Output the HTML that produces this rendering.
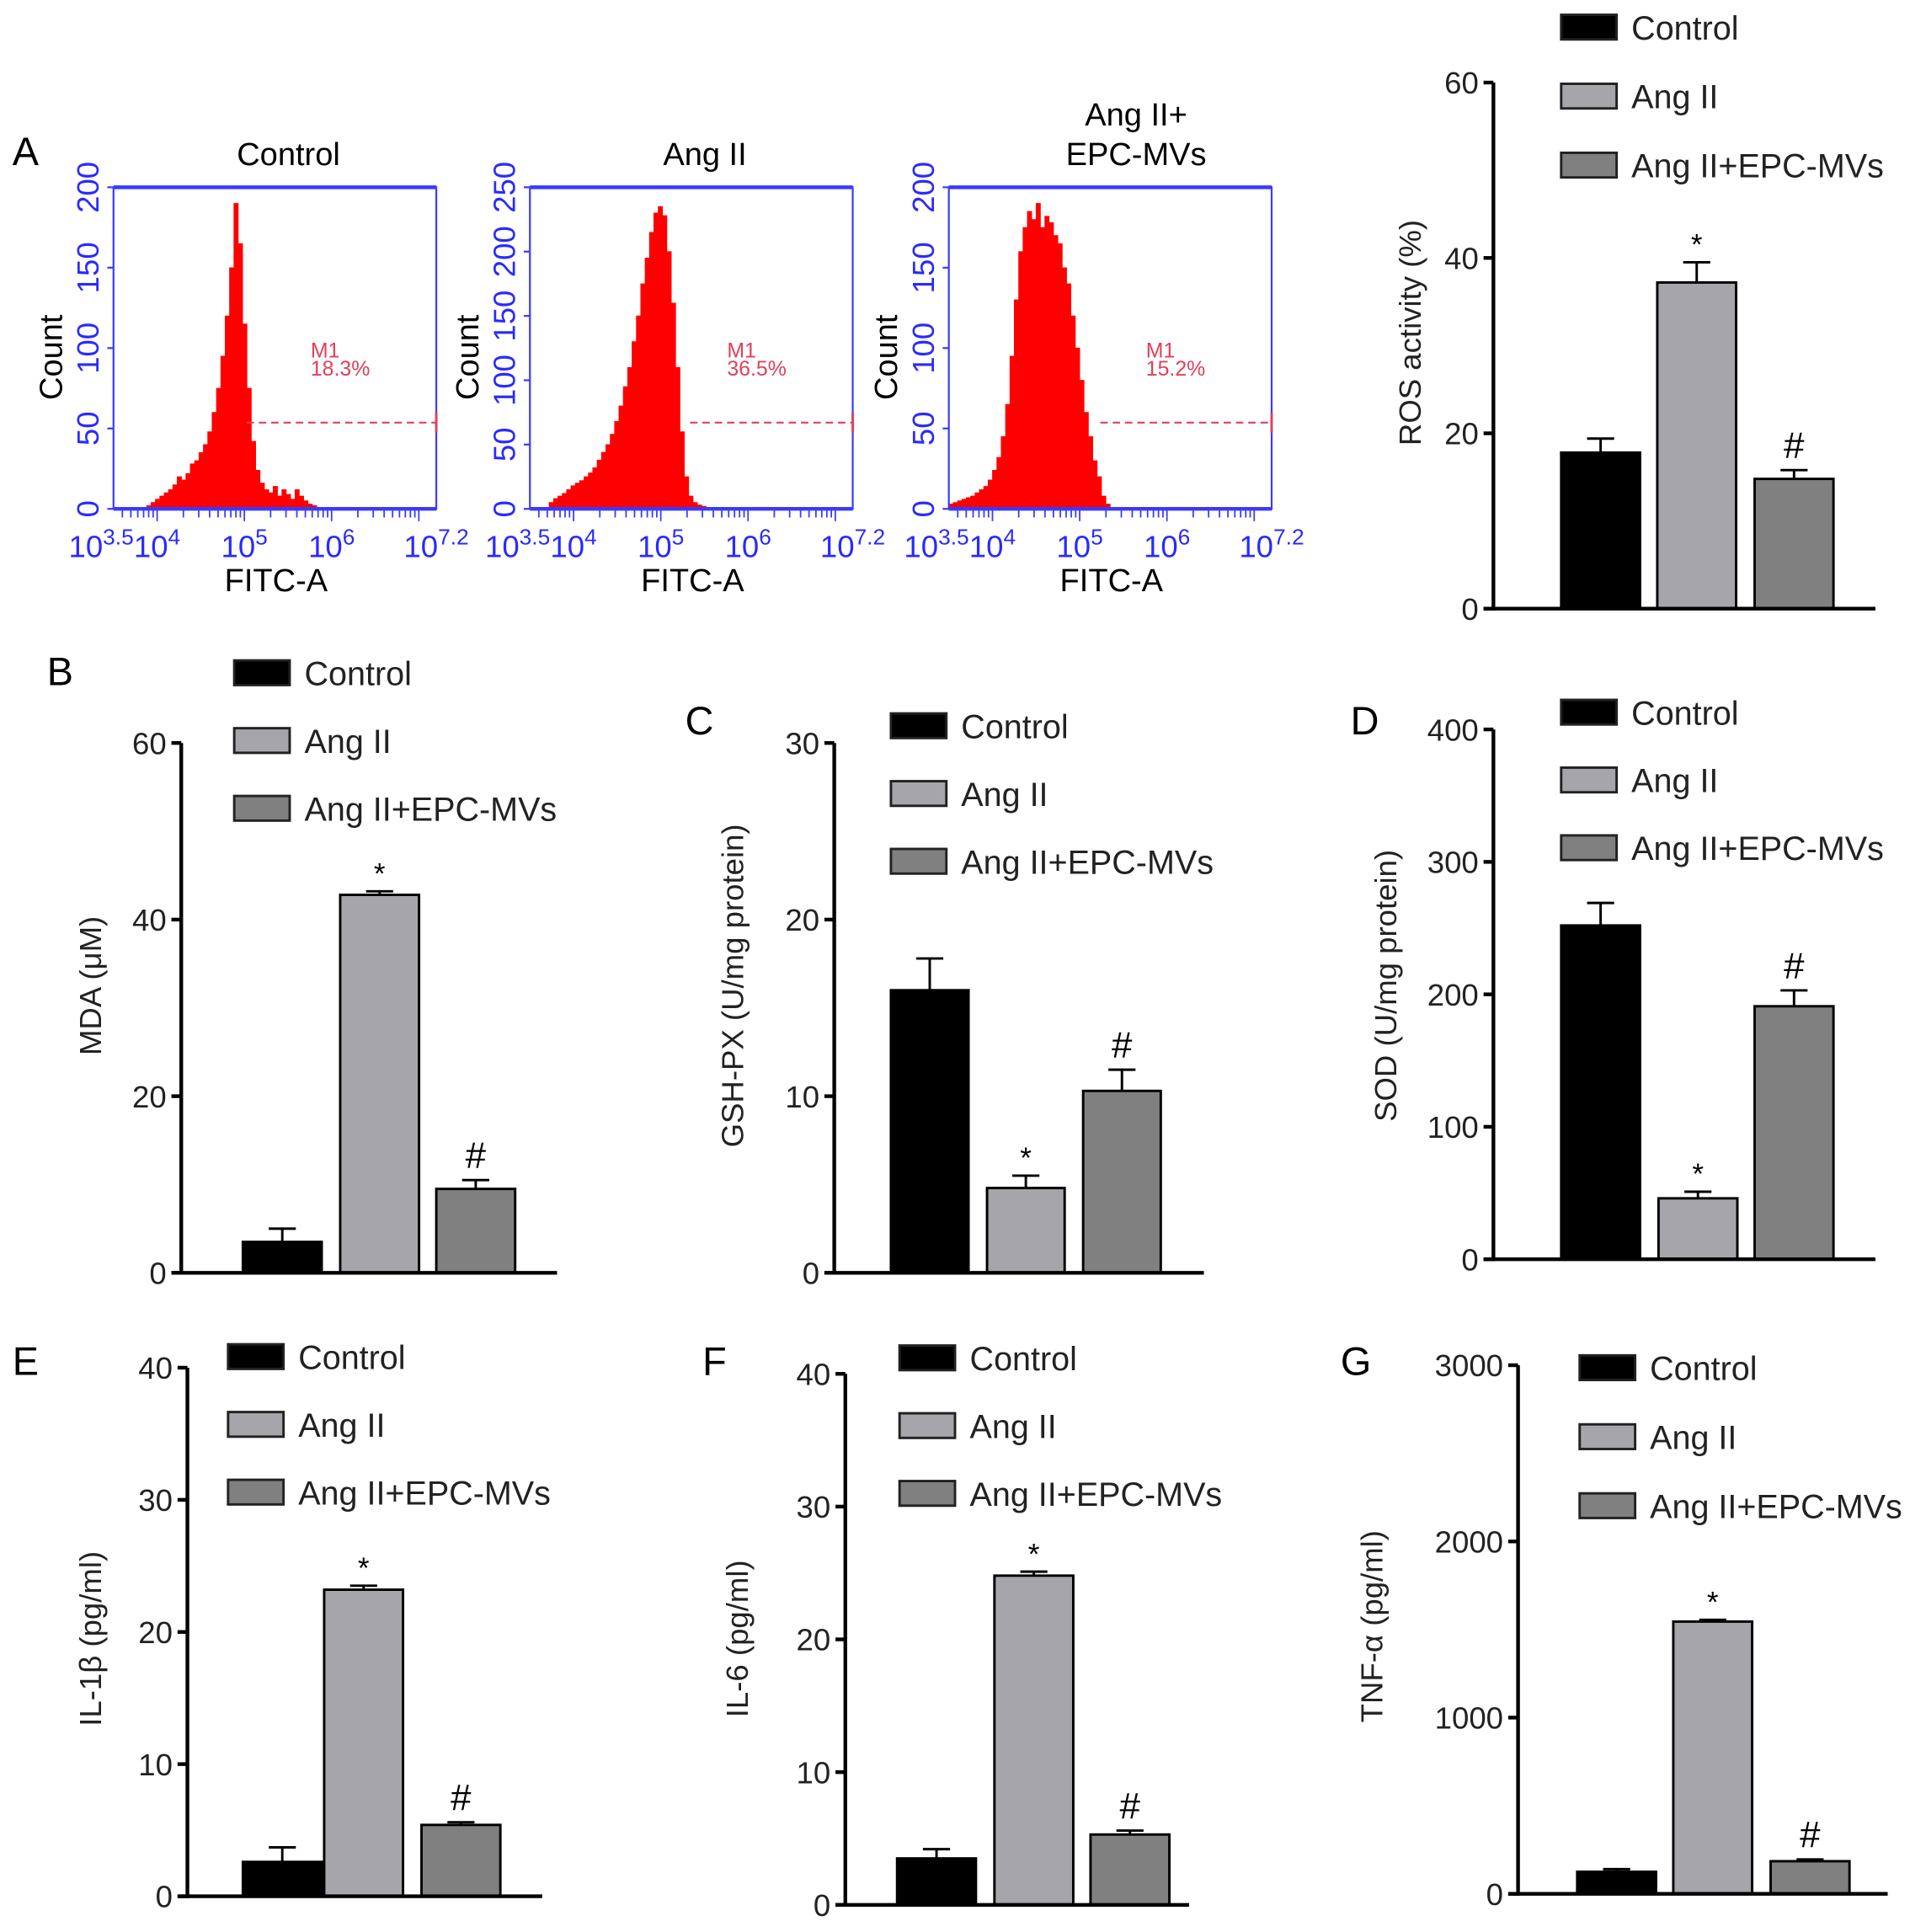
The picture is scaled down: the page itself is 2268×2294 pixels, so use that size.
<!DOCTYPE html>
<html><head><meta charset="utf-8"><style>
html,body{margin:0;padding:0;background:#fff;}
svg{display:block;font-family:"Liberation Sans",Arial,sans-serif;}
</style></head><body>
<svg id="fig" width="2268" height="2294" viewBox="0 0 1550 1568" xmlns="http://www.w3.org/2000/svg"></svg>
<script>
// ---------- Data ----------
const groups = ["Control","Ang II","Ang II+EPC-MVs"];
const rosValues=[17.8,37.2,14.8], rosErr=[1.6,2.3,1.0];
const mdaValues=[3.5,42.8,9.5], mdaErr=[1.5,0.4,1.0];
const gshValues=[16.0,4.8,10.3], gshErr=[1.8,0.7,1.2];
const sodValues=[252,46,191], sodErr=[17,5,12];
const il1Values=[2.6,23.2,5.4], il1Err=[1.1,0.3,0.2];
const il6Values=[3.5,24.8,5.3], il6Err=[0.7,0.3,0.3];
const tnfValues=[125,1545,185], tnfErr=[15,10,10];
const sigMarks=["","*","#"];
// flow histograms: counts per 0.05-log bin starting at histStart
const hist1Start=3.88;
const hist1Counts=[2,4,6,8,10,12,15,20,18,22,28,30,35,40,48,60,75,95,120,150,190,165,115,75,42,24,16,12,10,14,8,12,9,6,12,8,5,3,2,1];
const hist2Start=3.72;
const hist2Counts=[5,8,10,12,15,18,20,22,25,28,32,38,44,50,58,68,80,95,110,130,150,175,195,215,230,235,228,200,160,110,60,25,10,5,3,2,1];
const hist3Start=3.5;
const hist3Counts=[3,4,5,6,7,8,10,12,14,18,24,32,45,65,95,130,160,175,185,180,190,175,182,178,170,165,150,140,120,100,80,60,45,30,20,8,3,1,0];
const histMarkers=["18.3%","36.5%","15.2%"];
const xTickLabels=["3.5","4","5","6","7.2"];
const xTickLogs=[3.5,4,5,6,7.2];

const svg=document.getElementById('fig');
const NS="http://www.w3.org/2000/svg";
function el(tag,attrs,parent,text){const e=document.createElementNS(NS,tag);for(const k in attrs)e.setAttribute(k,attrs[k]);if(text!==undefined)e.textContent=text;(parent||svg).appendChild(e);return e;}
const colors=["#000000","#a5a5aa","#808080"];

// ---------- Flow histograms ----------
const histPanels=[
 {x:92,title:["Control"],ymax:200,ticks:[0,50,100,150,200],start:hist1Start,counts:hist1Counts,gate:200},
 {x:430,title:["Ang II"],ymax:250,ticks:[0,50,100,150,200,250],start:hist2Start,counts:hist2Counts,gate:560},
 {x:770,title:["Ang II+","EPC-MVs"],ymax:200,ticks:[0,50,100,150,200],start:hist3Start,counts:hist3Counts,gate:893}
];
histPanels.forEach((p,i)=>{
  const g=el('g',{});
  
  
  const W=262,top=152,bot=413;
  const xs=l=>p.x+(l-3.5)/3.7*W;
  const ys=v=>bot-v/p.ymax*(bot-top);
  let d='M'+xs(p.start)+','+bot;
  p.counts.forEach((c,k)=>{const x0=xs(p.start+k*0.05),x1=xs(p.start+(k+1)*0.05);d+=' L'+x0+','+ys(c)+' L'+x1+','+ys(c);});
  d+=' L'+xs(p.start+p.counts.length*0.05)+','+bot+' Z';
  const h=el('path',{d:d,fill:'#ff0000',stroke:'#ff0000','stroke-width':0.5},g);
  
  
  el('rect',{x:p.x,y:top,width:W,height:bot-top,fill:'none',stroke:'#3a3aff','stroke-width':1.5},g);
  el('line',{x1:p.x,y1:top,x2:p.x+W,y2:top,stroke:'#3a3aff','stroke-width':3},g);
  el('line',{x1:p.x,y1:bot,x2:p.x+W,y2:bot,stroke:'#3a3aff','stroke-width':3},g);
  p.ticks.forEach(t=>{const y=ys(t);el('line',{x1:p.x-5,y1:y,x2:p.x,y2:y,stroke:'#3a3aff','stroke-width':1.5},g);
    el('text',{x:0,y:0,transform:`translate(${p.x-12},${y}) rotate(-90)`,'text-anchor':'middle','font-size':25,fill:'#2a2aff'},g,String(t));});
  for(let dec=3;dec<=7;dec++)for(let m=1;m<=9;m++){const l=dec+Math.log10(m);if(l<3.5||l>7.2)continue;
    el('line',{x1:xs(l),y1:bot,x2:xs(l),y2:bot+(m==1?10:7),stroke:'#3a3aff','stroke-width':1.2},g);}
  xTickLogs.forEach((l,k)=>{const t=el('text',{x:xs(l)-(k==0?10:0),y:452,'text-anchor':'middle','font-size':25,fill:'#2a2aff'},g);
    el('tspan',{},t,'10');el('tspan',{dy:-10,'font-size':18},t,xTickLabels[k]);});
  el('text',{x:p.x+132,y:480,'text-anchor':'middle','font-size':26},g,'FITC-A');
  el('text',{x:0,y:0,transform:`translate(${p.x-42},${290}) rotate(-90)`,'text-anchor':'middle','font-size':26},g,'Count');
  if(p.title.length==1) el('text',{x:p.x+142,y:134,'text-anchor':'middle','font-size':26},g,p.title[0]);
  else {el('text',{x:p.x+152,y:102,'text-anchor':'middle','font-size':26},g,p.title[0]);el('text',{x:p.x+152,y:134,'text-anchor':'middle','font-size':26},g,p.title[1]);}
  el('line',{x1:p.gate,y1:343,x2:p.x+W,y2:343,stroke:'#e0405a','stroke-width':1.5,'stroke-dasharray':'6,4'},g);
  el('line',{x1:p.x+W,y1:335,x2:p.x+W,y2:351,stroke:'#e0405a','stroke-width':2},g);
  el('text',{x:p.x+160,y:290,'font-size':17,fill:'#e0405a'},g,'M1');
  el('text',{x:p.x+160,y:305,'font-size':17,fill:'#e0405a'},g,histMarkers[i]);
});
const la=el('text',{x:10,y:134,'font-size':32},svg,'A');



// ---------- Bar charts ----------
function barChart(c){
  const g=el('g',{});
  
  
  const ys=v=>c.y0-v/c.ymax*(c.y0-c.ytop);
  c.values.forEach((v,k)=>{
    const x=c.bx[k], y=ys(v), yE=ys(v+c.err[k]), cx=x+c.bw/2;
    el('line',{x1:cx,y1:y,x2:cx,y2:yE,stroke:'#000','stroke-width':2},g);
    el('line',{x1:cx-11,y1:yE,x2:cx+11,y2:yE,stroke:'#000','stroke-width':2},g);
    const r=el('rect',{x:x,y:y,width:c.bw,height:c.y0-y,fill:colors[k],stroke:'#000','stroke-width':2},g);
    
    
    if(sigMarks[k]) el('text',{x:cx,y:yE-(sigMarks[k]=='*'?6:10),'text-anchor':'middle','font-size':sigMarks[k]=='*'?24:30},g,sigMarks[k]);
  });
  el('line',{x1:c.ax,y1:c.ytop,x2:c.ax,y2:c.y0+1.5,stroke:'#000','stroke-width':3},g);
  el('line',{x1:c.ax-8,y1:c.y0,x2:c.xend,y2:c.y0,stroke:'#000','stroke-width':3},g);
  c.ticks.forEach(t=>{const y=ys(t);el('line',{x1:c.ax-8,y1:y,x2:c.ax,y2:y,stroke:'#000','stroke-width':3},g);
    el('text',{x:c.ax-12,y:y+9,'text-anchor':'end','font-size':25,fill:'#222'},g,String(t));});
  el('text',{x:0,y:0,transform:`translate(${c.lx},${c.ly}) rotate(-90)`,'text-anchor':'middle','font-size':25,fill:'#222'},g,c.ylabel);
  groups.forEach((gname,k)=>{
    const ly=c.legY+k*c.legDy;
    el('rect',{x:c.legX,y:ly-10,width:45,height:20,fill:colors[k],stroke:'#222','stroke-width':2},g);
    const t=el('text',{x:c.legX+57,y:ly+10,'font-size':27,fill:'#222'},g,gname);
    
    
  });
  if(c.label) el('text',{x:c.labX,y:c.labY,'font-size':32},g,c.label);
}
barChart({name:'ros-chart',ax:1212,y0:494,ytop:67,ymax:60,ticks:[0,20,40,60],xend:1522,bx:[1267,1345,1424],bw:64,values:rosValues,err:rosErr,legX:1267,legY:22,legDy:56,lx:1153,ly:270,ylabel:'ROS activity (%)'});
barChart({name:'mda-chart',ax:147,y0:1033,ytop:603,ymax:60,ticks:[0,20,40,60],xend:452,bx:[197,276,354],bw:64,values:mdaValues,err:mdaErr,legX:190,legY:546,legDy:55,lx:82,ly:800,ylabel:'MDA (μM)',label:'B',labX:38,labY:556});
barChart({name:'gsh-px-chart',ax:677,y0:1033,ytop:603,ymax:30,ticks:[0,10,20,30],xend:977,bx:[723,801,879],bw:63,values:gshValues,err:gshErr,legX:723,legY:589,legDy:55,lx:603,ly:800,ylabel:'GSH-PX (U/mg protein)',label:'C',labX:556,labY:596});
barChart({name:'sod-chart',ax:1212,y0:1022,ytop:592,ymax:400,ticks:[0,100,200,300,400],xend:1522,bx:[1267,1346,1424],bw:64,values:sodValues,err:sodErr,legX:1267,legY:578,legDy:55,lx:1133,ly:800,ylabel:'SOD (U/mg protein)',label:'D',labX:1096,labY:596});
barChart({name:'il-1b-chart',ax:152,y0:1539,ytop:1110,ymax:40,ticks:[0,10,20,30,40],xend:440,bx:[197,263,342],bw:64,values:il1Values,err:il1Err,legX:185,legY:1101,legDy:55,lx:82,ly:1330,ylabel:'IL-1β (pg/ml)',label:'E',labX:10,labY:1116});
barChart({name:'il-6-chart',ax:686,y0:1546,ytop:1115,ymax:40,ticks:[0,10,20,30,40],xend:965,bx:[728,807,885],bw:64,values:il6Values,err:il6Err,legX:730,legY:1102,legDy:55,lx:607,ly:1330,ylabel:'IL-6 (pg/ml)',label:'F',labX:570,labY:1116});
barChart({name:'tnf-a-chart',ax:1232,y0:1537,ytop:1108,ymax:3000,ticks:[0,1000,2000,3000],xend:1532,bx:[1280,1358,1437],bw:64,values:tnfValues,err:tnfErr,legX:1282,legY:1110,legDy:56,lx:1122,ly:1320,ylabel:'TNF-α (pg/ml)',label:'G',labX:1088,labY:1116});
</script>
</body></html>
